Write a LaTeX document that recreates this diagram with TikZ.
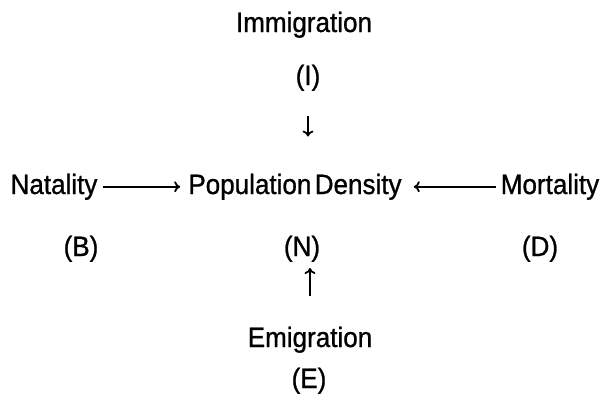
\documentclass[tikz,border=0pt]{standalone}
\usepackage{fontspec}
\setmainfont{Liberation Sans}
\newfontfamily\reffont{Liberation Sans}[FakeBold=0.9, FakeStretch=0.93]
\usetikzlibrary{arrows.meta}
\begin{document}
\begin{tikzpicture}[x=1pt,y=-1pt,
  lbl/.style={font=\reffont\fontsize{28}{32}\selectfont, inner sep=0pt, anchor=base},
  arr/.style={-{To[length=6pt,width=11pt]}, line width=1.8pt}]
\useasboundingbox (0,0) rectangle (605,400);
\node[lbl] (imm) at (304,32) {Immigration};
\node[lbl] (i) at (308,85) {(I)};
\node[lbl] (nat) at (54,194) {Natality};
\node[lbl] (pop) at (295,194) {Population\hspace{0.12em}Density};
\node[lbl] (mor) at (550,194) {Mortality};
\node[lbl] (b) at (81,256) {(B)};
\node[lbl] (n) at (302,256) {(N)};
\node[lbl] (d) at (540,256) {(D)};
\node[lbl] (emi) at (310,347) {Emigration};
\node[lbl] (e) at (309,388) {(E)};
\draw[arr, shorten <=5pt, shorten >=8pt] (nat.east) -- (pop.west);
\draw[arr, shorten <=5pt, shorten >=12pt] (mor.west) -- (pop.east);
\draw[arr, shorten <=25pt, shorten >=37pt] (i.south) -- (i.south |- pop.north);
\draw[arr, shorten <=31pt, shorten >=6pt] (emi.north) -- (emi.north |- n.south);
\end{tikzpicture}
\end{document}
